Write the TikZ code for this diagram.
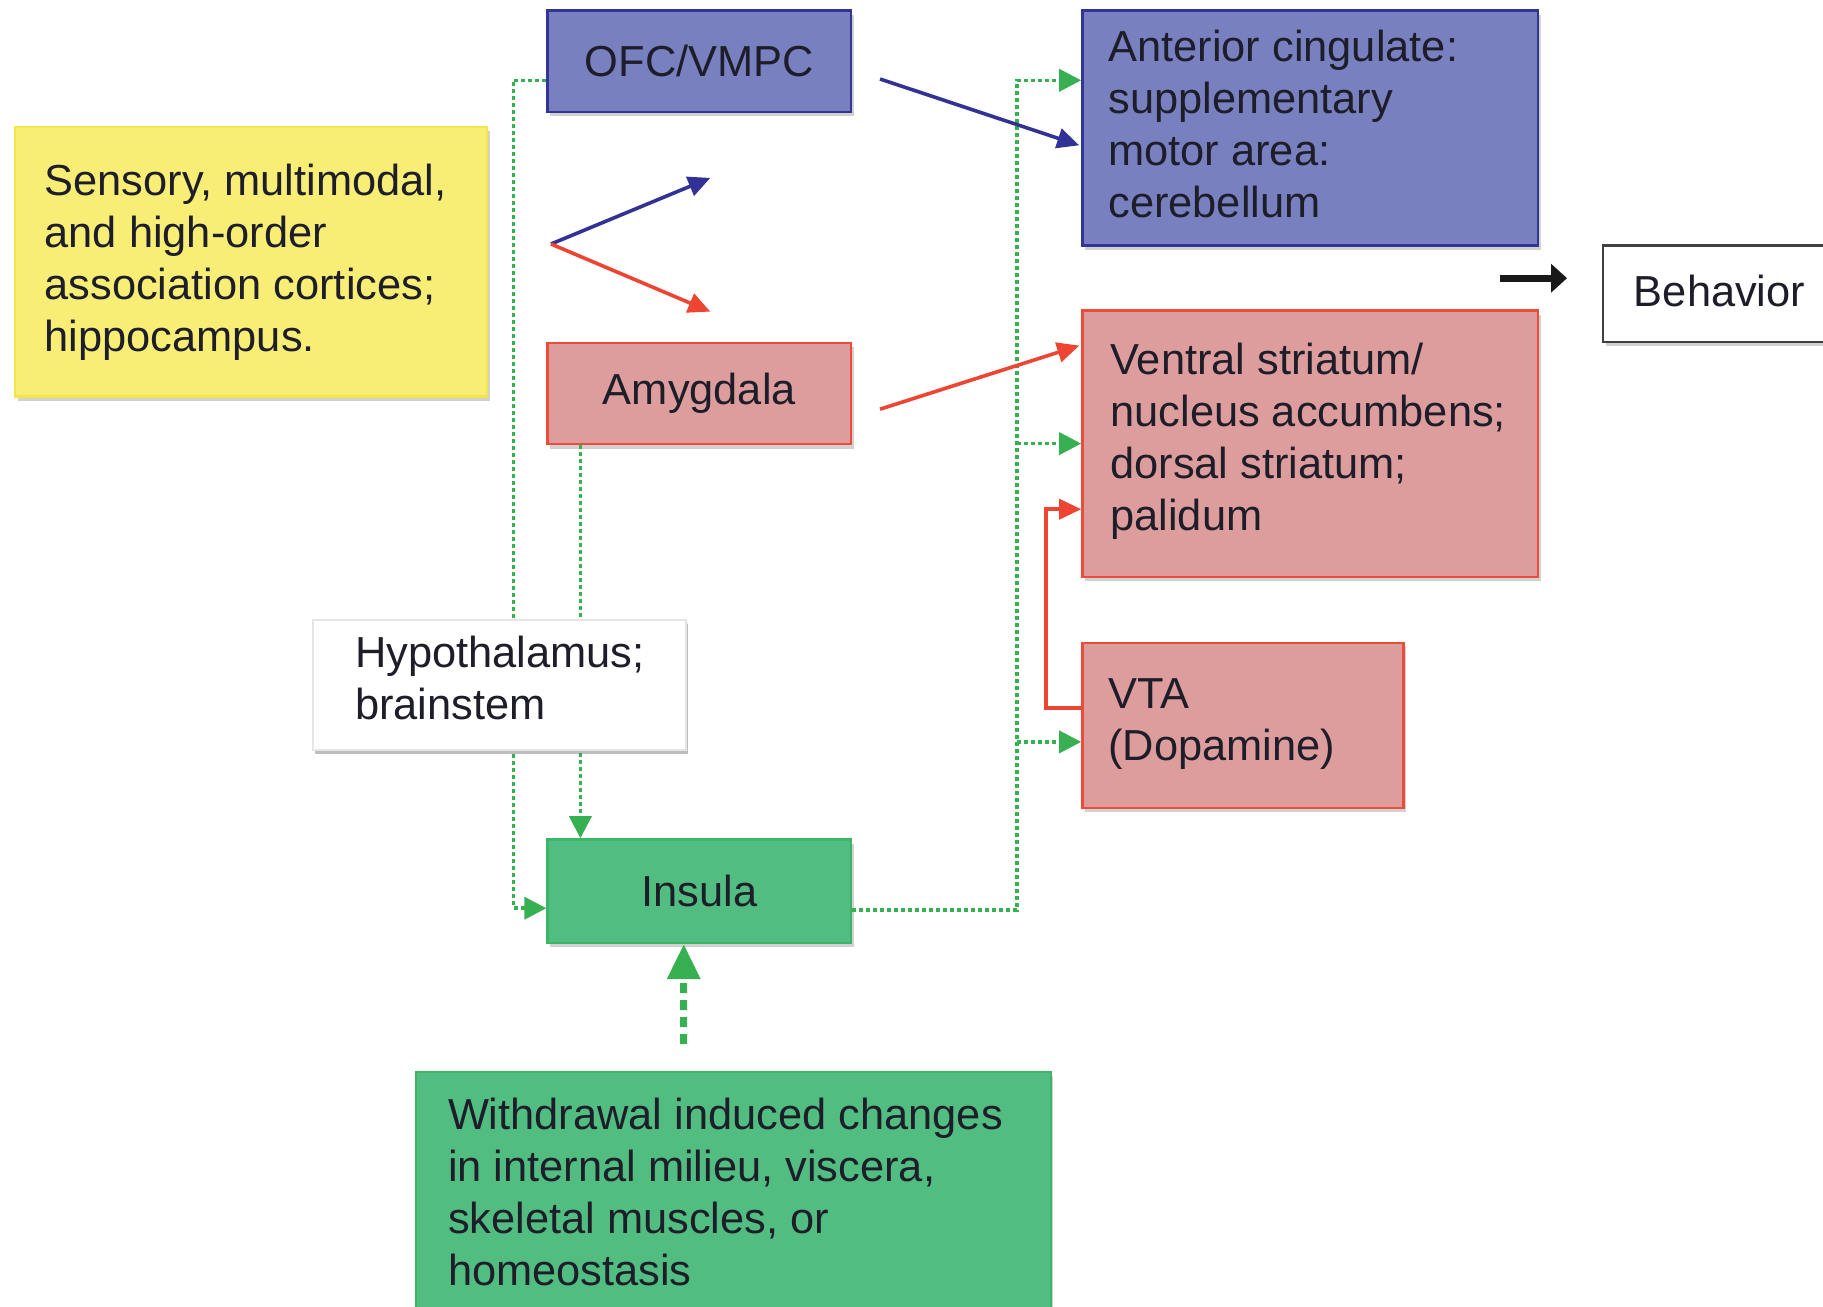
\documentclass[tikz,border=0pt]{standalone}
\usepackage{fontspec}
\setmainfont{Liberation Sans}
\usetikzlibrary{arrows.meta,shadows}

\definecolor{bluefill}{RGB}{120,128,192}
\definecolor{bluedraw}{RGB}{52,52,150}
\definecolor{redfill}{RGB}{222,157,157}
\definecolor{reddraw}{RGB}{236,76,58}
\definecolor{greenfill}{RGB}{82,189,128}
\definecolor{greendraw}{RGB}{62,180,104}
\definecolor{yellowfill}{RGB}{248,238,118}
\definecolor{yellowdraw}{RGB}{245,230,72}
\definecolor{dotgreen}{RGB}{55,176,82}
\definecolor{arrowblue}{RGB}{50,50,150}
\definecolor{arrowred}{RGB}{238,68,50}
\definecolor{textc}{RGB}{30,30,42}

\begin{document}
\begin{tikzpicture}[x=0.5pt,y=-0.5pt,
  box/.style={rectangle, draw, line width=1.2pt, inner sep=0pt, anchor=north west,
    font=\fontsize{21.7}{26}\selectfont, text=textc,
    drop shadow={shadow xshift=1.2pt, shadow yshift=-2.2pt, opacity=0.3, fill=black!60}},
  bluebox/.style={fill=bluefill, draw=bluedraw},
  redbox/.style={fill=redfill, draw=reddraw},
  greenbox/.style={fill=greenfill, draw=greendraw},
  yellowbox/.style={fill=yellowfill, draw=yellowdraw},
  whitebox/.style={fill=white, draw=black!75},
  hypobox/.style={fill=white, draw=black!10, drop shadow={shadow xshift=1pt, shadow yshift=-1.8pt, opacity=0.18, fill=black!60}},
  txt/.style={inner sep=0pt, align=left, text=textc, font=\fontsize{21.7}{26}\selectfont},
  gdot/.style={draw=dotgreen, line width=1.8pt, dash pattern=on 2pt off 1.5pt},
  gtip/.style={-{Triangle[length=11pt,width=11pt]}},
  bluearrow/.style={draw=arrowblue, line width=1.8pt, -{Triangle[length=11pt,width=10pt]}},
  redarrow/.style={draw=arrowred, line width=1.8pt, -{Triangle[length=11pt,width=10pt]}},
  blackarrow/.style={draw=black!90, line width=3.5pt, -{Triangle[length=8pt,width=14pt]}},
  wdarrow/.style={draw=dotgreen, line width=3.5pt, dash pattern=on 5pt off 3.5pt,
    -{Triangle[length=17.5pt,width=16pt]}}
]
\useasboundingbox (0,0) rectangle (1823,1306);
\clip (0,0) rectangle (1823,1306);

% boxes
\node[box, bluebox, minimum width=151.8pt, minimum height=50.6pt] (ofc) at (546.4,9.3) {OFC/VMPC};
\node[box, redbox, minimum width=151.8pt, minimum height=50.6pt] (amy) at (546.4,341.8) {Amygdala};
\node[box, greenbox, minimum width=151.8pt, minimum height=51.8pt] (ins) at (546.4,838.2) {Insula};

\node[box, yellowbox, minimum width=236pt, minimum height=134.9pt] (sens) at (14,125.6) {};
\node[txt, anchor=west] (senst) at (44.2,262) {Sensory, multimodal,\\and high-order\\association cortices;\\hippocampus.};

\node[box, bluebox, minimum width=227.9pt, minimum height=117.4pt] (ac) at (1081.2,9.3) {};
\node[txt, anchor=west] (act) at (1108,124.4) {Anterior cingulate:\\supplementary\\motor area:\\cerebellum};

\node[box, redbox, minimum width=227.9pt, minimum height=133.1pt] (vs) at (1081.2,309.3) {};
\node[txt, anchor=west] (vst) at (1110,441.2) {Ventral striatum/\\nucleus accumbens;\\dorsal striatum;\\palidum};

\node[box, redbox, minimum width=160.5pt, minimum height=82.5pt] (vta) at (1081.2,641.8) {};
\node[txt, anchor=west] (vtat) at (1108,724.3) {VTA\\(Dopamine)};

\node[box, whitebox, minimum width=124pt, minimum height=48.3pt] (beh) at (1602,244.1) {};
\node[txt, anchor=west] (beht) at (1633.5,290.7) {Behavior};

\node[box, greenbox, minimum width=317.4pt, minimum height=130pt] (wd) at (415,1070.8) {};
\node[txt, anchor=west] (wdt) at (447.6,1191.7) {Withdrawal induced changes\\in internal milieu, viscera,\\skeletal muscles, or\\homeostasis};

% green dotted pathways
\draw[gdot, gtip] ([yshift=-9.6pt]ofc.west) -| ([xshift=-16.5pt,yshift=-8.5pt]ins.west) -- ([yshift=-8.5pt]ins.west);
\draw[gdot, gtip] ([xshift=17pt]amy.south west) -- ([xshift=17pt]ins.north west);
\draw[gdot, gtip] ([yshift=-9.5pt]ins.east) -| ([xshift=-32pt,yshift=23.8pt]ac.west) -- ([yshift=23.8pt]ac.west);
\draw[gdot, gtip] ([xshift=-32pt]vs.west) -- (vs.west);
\draw[gdot, gtip] ([xshift=-32pt,yshift=-8.2pt]vta.west) -- ([yshift=-8.2pt]vta.west);

% hypothalamus box sits over the dotted lines
\node[box, hypobox, minimum width=186.6pt, minimum height=65.1pt] (hyp) at (311.6,618.5) {};
\node[txt, anchor=west] (hypt) at (354.6,677.8) {Hypothalamus;\\brainstem};

% solid pathways
\coordinate (fork) at (551,244);
\coordinate (forkb) at (710.3,177.9);
\coordinate (forkr) at (710.3,311.6);
\draw[bluearrow] (fork) -- (forkb);
\draw[redarrow] (fork) -- (forkr);

\coordinate (ofcout) at (880,79);
\draw[bluearrow] (ofcout) -- ([xshift=-1pt,yshift=-8.7pt]ac.west);
\coordinate (amyout) at (880,409.2);
\draw[redarrow] (amyout) -- ([xshift=-1pt,yshift=49pt]vs.west);

\draw[redarrow] ([yshift=8.7pt]vta.west) -| ([xshift=-17.5pt,yshift=-32.8pt]vs.west) -- ([yshift=-32.8pt]vs.west);

\draw[blackarrow] ([xshift=-51pt,yshift=7.7pt]beh.west) -- ([xshift=-17.5pt,yshift=7.7pt]beh.west);

\draw[wdarrow] ([xshift=-25pt,yshift=13.4pt]wd.north) -- ([xshift=-7.8pt]ins.south);
\end{tikzpicture}
\end{document}
